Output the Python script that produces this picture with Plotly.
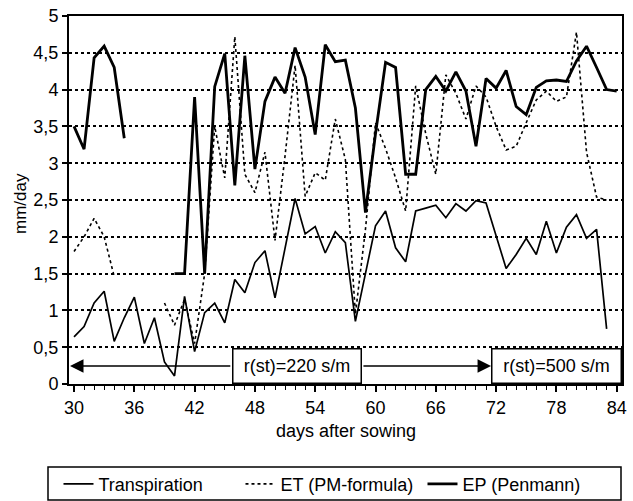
import plotly.graph_objects as go

days = list(range(30, 85))

transpiration = [0.64, 0.78, 1.10, 1.26, 0.58, 0.90, 1.18, 0.55, 0.90, 0.30,
                 0.11, 1.19, 0.44, 0.97, 1.10, 0.83, 1.42, 1.24, 1.65, 1.81,
                 1.17, 1.85, 2.52, 2.04, 2.14, 1.78, 2.07, 1.92, 0.85, 1.50,
                 2.15, 2.35, 1.85, 1.66, 2.35, 2.39, 2.43, 2.26, 2.45, 2.35,
                 2.49, 2.46, 2.00, 1.57, 1.76, 1.98, 1.76, 2.21, 1.78, 2.13,
                 2.30, 1.98, 2.10, 0.75, None]

et_pm = [1.80, 2.00, 2.25, 2.00, 1.46, None, None, None, None, 1.10,
         0.80, 1.15, 0.55, 1.50, 3.50, 2.80, 4.72, 2.85, 2.60, 3.15,
         1.95, 3.10, 4.33, 2.55, 2.87, 2.77, 3.60, 3.05, 0.95, 2.10,
         3.55, 3.20, 2.80, 2.35, 4.05, 3.40, 2.85, 4.20, 3.95, 3.60,
         4.05, 3.90, 3.50, 3.18, 3.23, 3.55, 3.86, 3.98, 3.84, 3.90,
         4.78, 3.15, 2.54, 2.50, None]

ep_penman = [3.50, 3.19, 4.43, 4.59, 4.30, 3.34, None, None, None, None,
             1.50, 1.50, 3.90, 1.50, 4.04, 4.49, 2.70, 4.46, 2.92, 3.84,
             4.17, 3.95, 4.57, 4.17, 3.39, 4.61, 4.38, 4.40, 3.75, 2.33,
             3.40, 4.37, 4.30, 2.85, 2.85, 4.00, 4.18, 3.98, 4.24, 3.98,
             3.23, 4.15, 4.02, 4.26, 3.77, 3.66, 4.03, 4.12, 4.13, 4.11,
             4.39, 4.59, 4.30, 4.00, 3.98]

x_ticks = [30, 36, 42, 48, 54, 60, 66, 72, 78, 84]
y_ticks = [0, 0.5, 1, 1.5, 2, 2.5, 3, 3.5, 4, 4.5, 5]
y_ticktext = ["0", "0,5", "1", "1,5", "2", "2,5", "3", "3,5", "4", "4,5", "5"]

FONT = "Liberation Sans, Arial, sans-serif"

fig = go.Figure()
fig.add_trace(go.Scatter(x=days, y=transpiration, mode="lines", name="Transpiration",
                         line=dict(color="black", width=1.7)))
fig.add_trace(go.Scatter(x=days, y=et_pm, mode="lines", name="ET (PM-formula)",
                         line=dict(color="black", width=1.6, dash="dot")))
fig.add_trace(go.Scatter(x=days, y=ep_penman, mode="lines", name="EP (Penmann)",
                         line=dict(color="black", width=2.8)))

# r(st) boxes and arrows
box_y = 0.245
fig.add_annotation(x=52.2, y=box_y, xref="x", yref="y", text="r(st)=220 s/m",
                   showarrow=False, width=127, height=33, borderpad=0,
                   bordercolor="black", borderwidth=1.5, bgcolor="white",
                   font=dict(size=18, color="black", family=FONT))
fig.add_annotation(x=78.0, y=box_y, xref="x", yref="y", text="r(st)=500 s/m",
                   showarrow=False, width=128, height=33, borderpad=0,
                   bordercolor="black", borderwidth=1.5, bgcolor="white",
                   font=dict(size=18, color="black", family=FONT))
fig.add_annotation(x=29.6, y=box_y, ax=45.7, ay=box_y, xref="x", yref="y",
                   axref="x", ayref="y", text="", showarrow=True,
                   arrowhead=2, arrowsize=1.8, arrowwidth=1.5, arrowcolor="black")
fig.add_annotation(x=71.5, y=box_y, ax=58.65, ay=box_y, xref="x", yref="y",
                   axref="x", ayref="y", text="", showarrow=True,
                   arrowhead=2, arrowsize=1.8, arrowwidth=1.5, arrowcolor="black")

# axis titles
fig.add_annotation(x=-0.088, y=0.49, xref="paper", yref="paper", text="mm/day",
                   textangle=-90, showarrow=False, xanchor="center", yanchor="middle",
                   font=dict(size=17, color="black", family=FONT))
fig.add_annotation(x=0.5, y=-0.127, xref="paper", yref="paper", text="days after sowing",
                   showarrow=False, xanchor="center", yanchor="middle",
                   font=dict(size=18, color="black", family=FONT))

# legend frame
fig.add_shape(type="rect", xref="paper", yref="paper",
              x0=(48 - 69) / 553, x1=(621 - 69) / 553,
              y0=(384 - 467) / 368, y1=(384 - 500) / 368,
              line=dict(color="black", width=1.5), fillcolor="rgba(0,0,0,0)")

fig.update_layout(
    width=633, height=501,
    margin=dict(l=69, r=11, t=16, b=117, pad=0, autoexpand=False),
    paper_bgcolor="white", plot_bgcolor="white",
    font=dict(family=FONT, size=18, color="black"),
    showlegend=True,
    legend=dict(orientation="h", x=-0.019, y=-0.222, xanchor="left", yanchor="top",
                borderwidth=0, bgcolor="rgba(0,0,0,0)",
                font=dict(size=18, color="black", family=FONT),
                entrywidth=137, entrywidthmode="pixels", tracegroupgap=0),
    xaxis=dict(range=[29.5, 84.53], tickvals=x_ticks, ticks="outside", ticklen=6,
               tickwidth=1.5, tickcolor="black",
               minor=dict(dtick=1, tick0=30, ticks="outside", ticklen=4, tickwidth=1.3,
                          tickcolor="black"),
               showline=True, linewidth=2, linecolor="black", mirror=True,
               showgrid=False, zeroline=False,
               tickfont=dict(size=18, color="black", family=FONT)),
    yaxis=dict(range=[0, 5], tickvals=y_ticks, ticktext=y_ticktext, ticks="outside",
               ticklen=5, tickwidth=1.5, tickcolor="black",
               showline=True, linewidth=2, linecolor="black", mirror=True,
               showgrid=True, gridcolor="black", griddash="dot", gridwidth=1.5,
               zeroline=False,
               tickfont=dict(size=18, color="black", family=FONT)),
)

fig.write_html("out.html")
